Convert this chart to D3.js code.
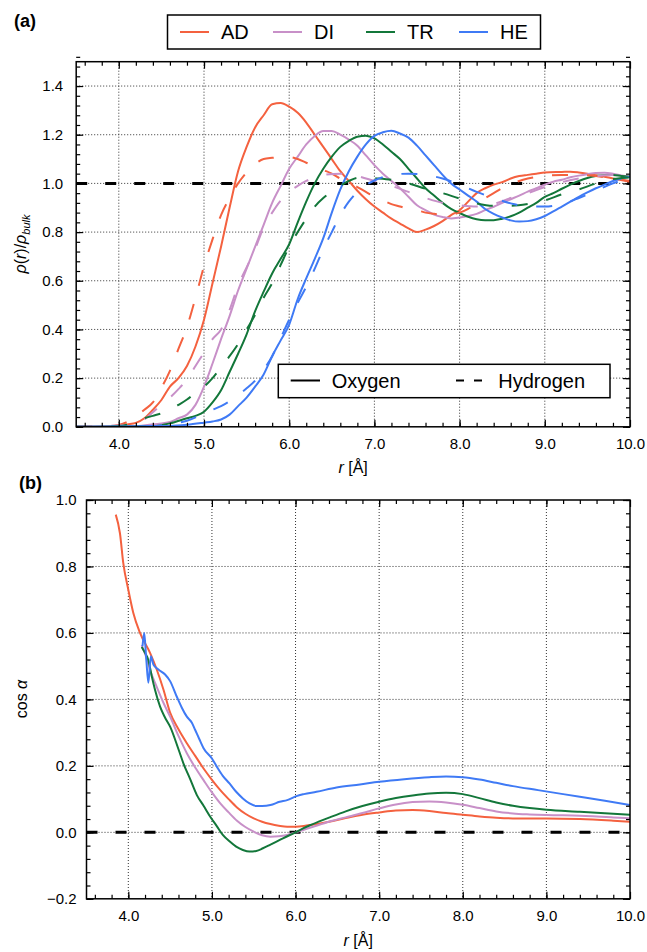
<!DOCTYPE html>
<html>
<head>
<meta charset="utf-8">
<script src="https://cdn.jsdelivr.net/npm/d3@7"></script>
<style>
  body { margin: 0; background: #fff; }
  text { font-family: "Liberation Sans", Arial, Helvetica, sans-serif; }
</style>
</head>
<body>
<div id="chart"></div>
<script>
// Series names and colours
var seriesNames = ["AD", "DI", "TR", "HE"];
var seriesColors = ["#f4613f", "#c890c8", "#13773a", "#3f7af5"];
var atomNames = ["Oxygen", "Hydrogen"];

// Panel (a): density profiles, [r, rho(r)/rho_bulk]
var adOxygen = [[3.5,0],[3.9,0.002],[4.0,0.005],[4.1,0.01],[4.2,0.016],[4.3,0.035],[4.4,0.07],[4.5,0.11],[4.6,0.165],[4.7,0.2],[4.8,0.25],[4.9,0.33],[5.0,0.44],[5.1,0.59],[5.2,0.74],[5.3,0.9],[5.4,1.05],[5.5,1.15],[5.6,1.23],[5.7,1.28],[5.8,1.325],[5.9,1.33],[6.0,1.315],[6.1,1.29],[6.2,1.25],[6.3,1.2],[6.4,1.15],[6.5,1.1],[6.6,1.05],[6.7,1.01],[6.8,0.97],[6.9,0.935],[7.0,0.905],[7.1,0.88],[7.2,0.855],[7.3,0.835],[7.4,0.815],[7.5,0.8],[7.6,0.81],[7.7,0.825],[7.8,0.845],[7.9,0.87],[8.0,0.89],[8.1,0.925],[8.2,0.96],[8.3,0.98],[8.4,0.995],[8.5,1.005],[8.6,1.02],[8.7,1.03],[8.8,1.035],[8.9,1.04],[9.0,1.045],[9.2,1.047],[9.3,1.048],[9.4,1.045],[9.5,1.04],[9.6,1.034],[9.8,1.02],[10.0,1.007]];
var adHydrogen = [[3.5,0],[3.9,0.003],[4.0,0.008],[4.1,0.02],[4.2,0.04],[4.3,0.07],[4.4,0.1],[4.5,0.16],[4.6,0.23],[4.7,0.32],[4.8,0.41],[4.9,0.53],[5.0,0.66],[5.1,0.77],[5.2,0.87],[5.3,0.94],[5.4,1.0],[5.5,1.045],[5.6,1.08],[5.7,1.1],[5.8,1.105],[5.9,1.108],[6.0,1.108],[6.1,1.1],[6.2,1.085],[6.3,1.07],[6.4,1.055],[6.5,1.04],[6.6,1.02],[6.7,1.005],[6.8,0.985],[6.9,0.965],[7.0,0.945],[7.1,0.93],[7.2,0.915],[7.3,0.905],[7.4,0.895],[7.5,0.89],[7.6,0.88],[7.7,0.875],[7.8,0.872],[7.9,0.873],[8.0,0.88],[8.1,0.895],[8.2,0.92],[8.3,0.94],[8.4,0.96],[8.5,0.98],[8.6,0.995],[8.7,1.01],[8.8,1.02],[9.0,1.03],[9.2,1.035],[9.4,1.035],[9.6,1.03],[9.8,1.02],[10.0,1.01]];
var diOxygen = [[3.5,0],[4.2,0.003],[4.4,0.01],[4.6,0.02],[4.7,0.035],[4.8,0.05],[4.9,0.09],[5.0,0.165],[5.1,0.26],[5.2,0.36],[5.3,0.455],[5.4,0.56],[5.5,0.65],[5.6,0.74],[5.7,0.83],[5.8,0.92],[5.9,0.99],[6.0,1.06],[6.1,1.11],[6.2,1.16],[6.3,1.195],[6.4,1.215],[6.5,1.215],[6.6,1.2],[6.7,1.18],[6.8,1.155],[6.9,1.115],[7.0,1.075],[7.1,1.04],[7.2,1.01],[7.3,0.98],[7.4,0.945],[7.5,0.91],[7.6,0.89],[7.7,0.872],[7.8,0.862],[7.9,0.856],[8.0,0.86],[8.1,0.866],[8.2,0.875],[8.3,0.89],[8.4,0.904],[8.5,0.92],[8.6,0.935],[8.7,0.95],[8.8,0.966],[8.9,0.98],[9.0,0.995],[9.1,1.007],[9.2,1.015],[9.3,1.025],[9.4,1.032],[9.5,1.038],[9.6,1.043],[9.7,1.044],[9.8,1.04],[9.9,1.033],[10.0,1.027]];
var diHydrogen = [[3.5,0],[4.2,0.01],[4.3,0.03],[4.4,0.06],[4.5,0.09],[4.6,0.12],[4.7,0.155],[4.8,0.195],[4.9,0.25],[5.0,0.305],[5.1,0.36],[5.2,0.4],[5.3,0.48],[5.4,0.58],[5.5,0.655],[5.6,0.73],[5.7,0.82],[5.8,0.88],[5.9,0.93],[6.0,0.965],[6.1,0.99],[6.2,1.01],[6.3,1.025],[6.4,1.035],[6.6,1.04],[6.8,1.03],[7.0,1.01],[7.2,0.99],[7.4,0.965],[7.6,0.94],[7.8,0.92],[8.0,0.91],[8.2,0.905],[8.4,0.915],[8.6,0.94],[8.8,0.96],[9.0,0.985],[9.2,1.005],[9.4,1.02],[9.6,1.03],[9.8,1.035],[10.0,1.035]];
var trOxygen = [[3.5,0],[4.4,0.003],[4.6,0.014],[4.8,0.035],[4.9,0.045],[5.0,0.062],[5.1,0.1],[5.2,0.15],[5.3,0.225],[5.4,0.3],[5.5,0.38],[5.6,0.475],[5.7,0.555],[5.8,0.63],[5.9,0.69],[6.0,0.75],[6.1,0.84],[6.2,0.925],[6.3,1.0],[6.4,1.06],[6.5,1.11],[6.6,1.15],[6.7,1.175],[6.8,1.192],[6.9,1.196],[7.0,1.185],[7.1,1.16],[7.2,1.13],[7.3,1.1],[7.4,1.06],[7.5,1.02],[7.6,0.98],[7.7,0.95],[7.8,0.92],[7.9,0.895],[8.0,0.878],[8.1,0.863],[8.2,0.853],[8.3,0.849],[8.4,0.849],[8.5,0.855],[8.6,0.865],[8.7,0.88],[8.8,0.9],[8.9,0.92],[9.0,0.945],[9.1,0.96],[9.2,0.978],[9.3,0.995],[9.4,1.01],[9.5,1.022],[9.6,1.03],[9.7,1.034],[9.8,1.035],[9.9,1.03],[10.0,1.027]];
var trHydrogen = [[3.5,0],[4.0,0.003],[4.2,0.02],[4.3,0.035],[4.4,0.045],[4.5,0.055],[4.6,0.07],[4.7,0.09],[4.8,0.112],[4.9,0.14],[5.0,0.165],[5.1,0.2],[5.2,0.245],[5.3,0.29],[5.4,0.34],[5.5,0.4],[5.6,0.46],[5.7,0.53],[5.8,0.59],[5.9,0.665],[6.0,0.74],[6.1,0.8],[6.2,0.855],[6.3,0.905],[6.4,0.94],[6.5,0.967],[6.6,0.99],[6.7,1.01],[6.8,1.023],[6.9,1.025],[7.0,1.022],[7.2,1.015],[7.4,1.0],[7.6,0.978],[7.8,0.96],[8.0,0.938],[8.2,0.918],[8.4,0.908],[8.6,0.908],[8.8,0.915],[9.0,0.93],[9.2,0.955],[9.4,0.975],[9.6,1.0],[9.8,1.018],[10.0,1.025]];
var heOxygen = [[3.5,0],[4.6,0.003],[4.8,0.008],[5.0,0.017],[5.1,0.022],[5.2,0.03],[5.3,0.05],[5.4,0.085],[5.5,0.12],[5.6,0.165],[5.7,0.215],[5.8,0.29],[5.9,0.355],[6.0,0.42],[6.1,0.525],[6.2,0.61],[6.3,0.69],[6.4,0.775],[6.5,0.88],[6.6,0.975],[6.7,1.05],[6.8,1.11],[6.9,1.16],[7.0,1.195],[7.1,1.21],[7.2,1.216],[7.3,1.205],[7.4,1.188],[7.5,1.155],[7.6,1.115],[7.7,1.075],[7.8,1.035],[7.9,1.0],[8.0,0.975],[8.1,0.95],[8.2,0.925],[8.3,0.895],[8.4,0.875],[8.5,0.86],[8.6,0.848],[8.7,0.843],[8.8,0.845],[8.9,0.853],[9.0,0.866],[9.1,0.885],[9.2,0.905],[9.3,0.925],[9.4,0.945],[9.5,0.963],[9.6,0.98],[9.7,0.995],[9.8,1.01],[9.9,1.02],[10.0,1.027]];
var heHydrogen = [[3.5,0],[4.4,0.003],[4.6,0.012],[4.8,0.025],[5.0,0.055],[5.1,0.07],[5.2,0.085],[5.3,0.105],[5.4,0.13],[5.5,0.158],[5.6,0.19],[5.7,0.235],[5.8,0.29],[5.9,0.365],[6.0,0.44],[6.1,0.51],[6.2,0.575],[6.3,0.65],[6.4,0.73],[6.5,0.8],[6.6,0.87],[6.7,0.925],[6.8,0.965],[6.9,0.993],[7.0,1.012],[7.1,1.026],[7.2,1.035],[7.4,1.04],[7.6,1.035],[7.8,1.02],[8.0,0.995],[8.2,0.965],[8.4,0.94],[8.6,0.918],[8.8,0.905],[9.0,0.905],[9.2,0.915],[9.4,0.94],[9.6,0.97],[9.8,1.0],[10.0,1.02]];

// Panel (b): orientation, [r, cos alpha]
var adCos = [[3.85,0.956],[3.9,0.9],[3.94,0.81],[4.0,0.73],[4.06,0.66],[4.14,0.6],[4.26,0.54],[4.34,0.49],[4.42,0.43],[4.5,0.36],[4.6,0.31],[4.7,0.268],[4.8,0.23],[4.9,0.192],[5.0,0.158],[5.1,0.127],[5.2,0.1],[5.3,0.075],[5.4,0.056],[5.5,0.042],[5.6,0.032],[5.7,0.025],[5.8,0.02],[5.9,0.017],[6.0,0.017],[6.1,0.019],[6.2,0.023],[6.4,0.032],[6.6,0.043],[6.8,0.053],[7.0,0.06],[7.2,0.066],[7.4,0.067],[7.6,0.064],[7.8,0.058],[8.0,0.053],[8.2,0.048],[8.4,0.044],[8.6,0.042],[9.0,0.042],[9.4,0.04],[9.8,0.035],[10.0,0.032]];
var diCos = [[4.16,0.563],[4.21,0.53],[4.26,0.488],[4.34,0.438],[4.42,0.39],[4.5,0.348],[4.6,0.29],[4.7,0.238],[4.8,0.195],[4.9,0.157],[5.0,0.12],[5.1,0.087],[5.2,0.06],[5.3,0.035],[5.4,0.016],[5.5,0.002],[5.6,-0.009],[5.7,-0.013],[5.8,-0.012],[5.9,-0.008],[6.0,0.0],[6.1,0.008],[6.2,0.016],[6.4,0.032],[6.6,0.045],[6.8,0.058],[7.0,0.072],[7.2,0.084],[7.4,0.091],[7.6,0.093],[7.8,0.09],[8.0,0.083],[8.2,0.073],[8.4,0.063],[8.6,0.057],[8.8,0.054],[9.0,0.052],[9.4,0.05],[9.8,0.045],[10.0,0.042]];
var trCos = [[4.16,0.558],[4.2,0.54],[4.24,0.518],[4.28,0.47],[4.32,0.428],[4.38,0.378],[4.44,0.345],[4.5,0.318],[4.6,0.25],[4.66,0.207],[4.74,0.16],[4.82,0.112],[4.9,0.08],[4.98,0.047],[5.06,0.018],[5.13,-0.008],[5.21,-0.027],[5.29,-0.043],[5.37,-0.053],[5.45,-0.058],[5.53,-0.056],[5.61,-0.048],[5.7,-0.037],[5.85,-0.018],[6.0,0.0],[6.09,0.012],[6.2,0.024],[6.41,0.045],[6.6,0.063],[6.8,0.079],[7.0,0.092],[7.2,0.103],[7.4,0.111],[7.6,0.117],[7.8,0.119],[8.0,0.115],[8.2,0.103],[8.4,0.09],[8.6,0.08],[8.8,0.073],[9.0,0.068],[9.4,0.062],[9.8,0.056],[10.0,0.053]];
var heCos = [[4.17,0.56],[4.19,0.6],[4.215,0.52],[4.24,0.45],[4.27,0.53],[4.3,0.505],[4.36,0.49],[4.44,0.475],[4.5,0.455],[4.58,0.408],[4.64,0.375],[4.7,0.348],[4.76,0.33],[4.8,0.308],[4.85,0.28],[4.9,0.253],[5.0,0.222],[5.06,0.197],[5.13,0.17],[5.21,0.147],[5.29,0.122],[5.37,0.102],[5.45,0.087],[5.53,0.079],[5.6,0.079],[5.7,0.082],[5.81,0.092],[5.9,0.097],[6.01,0.109],[6.1,0.115],[6.25,0.122],[6.49,0.135],[6.77,0.144],[7.0,0.152],[7.3,0.16],[7.6,0.166],[7.8,0.168],[8.0,0.166],[8.2,0.159],[8.4,0.149],[8.6,0.139],[8.9,0.127],[9.2,0.115],[9.4,0.107],[9.7,0.095],[10.0,0.082]];

// Tick labels
var xTicks = [4, 5, 6, 7, 8, 9, 10];
var densityTicks = [0, 0.2, 0.4, 0.6, 0.8, 1.0, 1.2, 1.4];
var cosTicks = [-0.2, 0, 0.2, 0.4, 0.6, 0.8, 1.0];

var svgWidth = 647;
var svgHeight = 952;

var svg = d3.select("#chart")
  .append("svg")
  .attr("width", svgWidth)
  .attr("height", svgHeight);

var xMinor = d3.range(18, 50).map(i => i / 5);
var fmt = d3.format(".1f");

function drawPanel(p) {
  var w = p.right - p.left;
  var h = p.bottom - p.top;
  var g = svg.append("g").attr("transform", `translate(${p.left}, ${p.top})`);

  var xScale = d3.scaleLinear().domain([3.5, 10]).range([0, w]);
  var yScale = d3.scaleLinear().domain(p.yDomain).range([h, 0]);

  g.append("clipPath").attr("id", p.id + "-clip")
    .append("rect").attr("width", w).attr("height", h);

  // dotted grid
  var grid = g.append("g")
    .attr("stroke", "#333")
    .attr("stroke-width", 1)
    .attr("stroke-dasharray", "1,2");
  grid.selectAll(".gx").data(xTicks.filter(v => v < 10)).enter()
    .append("line")
    .attr("x1", d => xScale(d)).attr("x2", d => xScale(d))
    .attr("y1", 0).attr("y2", h);
  grid.selectAll(".gy").data(p.yTicks.filter(v => v > p.yDomain[0] && v < p.yDomain[1])).enter()
    .append("line")
    .attr("x1", 0).attr("x2", w)
    .attr("y1", d => yScale(d)).attr("y2", d => yScale(d));

  // reference line
  g.append("line")
    .attr("x1", xScale(3.5)).attr("x2", xScale(10))
    .attr("y1", yScale(p.refValue)).attr("y2", yScale(p.refValue))
    .attr("stroke", "#000")
    .attr("stroke-width", 3)
    .attr("stroke-dasharray", "11,18");

  var line = d3.line()
    .x(d => xScale(d[0]))
    .y(d => yScale(d[1]))
    .curve(d3.curveMonotoneX);

  var curves = g.append("g").attr("clip-path", `url(#${p.id}-clip)`);
  p.series.forEach(function(s) {
    curves.append("path")
      .attr("d", line(s.values))
      .attr("fill", "none")
      .attr("stroke", s.color)
      .attr("stroke-width", 2)
      .attr("stroke-dasharray", s.dashed ? "16,19" : null);
  });

  // axes, ticks pointing inward on all four sides
  var yMinor = d3.range(Math.round(p.yDomain[0] / 0.04), Math.round(p.yDomain[1] / 0.04) + 1).map(i => i * 0.04);
  function styleAxis(sel) {
    sel.select(".domain").remove();
    sel.attr("font-size", 15).attr("font-family", '"Liberation Sans", Arial, sans-serif');
    sel.selectAll("line").attr("stroke-width", 1.2);
  }
  g.append("g").attr("transform", `translate(0, ${h})`)
    .call(d3.axisBottom(xScale).tickValues(xMinor).tickSize(-4).tickFormat("")).call(styleAxis);
  g.append("g").attr("transform", `translate(0, ${h})`)
    .call(d3.axisBottom(xScale).tickValues(xTicks).tickSize(-7).tickPadding(12).tickFormat(fmt)).call(styleAxis);
  g.append("g")
    .call(d3.axisTop(xScale).tickValues(xMinor).tickSize(-4).tickFormat("")).call(styleAxis);
  g.append("g")
    .call(d3.axisTop(xScale).tickValues(xTicks).tickSize(-7).tickFormat("")).call(styleAxis);
  g.append("g")
    .call(d3.axisLeft(yScale).tickValues(yMinor).tickSize(-4).tickFormat("")).call(styleAxis);
  g.append("g")
    .call(d3.axisLeft(yScale).tickValues(p.yTicks).tickSize(-7).tickPadding(p.yPad).tickFormat(fmt)).call(styleAxis);
  g.append("g").attr("transform", `translate(${w}, 0)`)
    .call(d3.axisRight(yScale).tickValues(yMinor).tickSize(-4).tickFormat("")).call(styleAxis);
  g.append("g").attr("transform", `translate(${w}, 0)`)
    .call(d3.axisRight(yScale).tickValues(p.yTicks).tickSize(-7).tickFormat("")).call(styleAxis);

  g.append("rect")
    .attr("width", w).attr("height", h)
    .attr("fill", "none")
    .attr("stroke", "#000")
    .attr("stroke-width", 1.5);

  // x axis label
  var xl = g.append("text")
    .attr("x", w / 2)
    .attr("y", h + p.xLabelOffset)
    .attr("text-anchor", "middle")
    .attr("font-size", 16);
  xl.append("tspan").attr("font-style", "italic").text("r");
  xl.append("tspan").text(" [Å]");

  return g;
}

var panelA = drawPanel({
  id: "a", left: 76.2, right: 630, top: 61.7, bottom: 426.8,
  yDomain: [0, 1.5], yTicks: densityTicks, yPad: 13, refValue: 1.0, xLabelOffset: 46,
  series: [
    { values: adOxygen, color: seriesColors[0] },
    { values: diOxygen, color: seriesColors[1] },
    { values: trOxygen, color: seriesColors[2] },
    { values: heOxygen, color: seriesColors[3] },
    { values: adHydrogen, color: seriesColors[0], dashed: true },
    { values: diHydrogen, color: seriesColors[1], dashed: true },
    { values: trHydrogen, color: seriesColors[2], dashed: true },
    { values: heHydrogen, color: seriesColors[3], dashed: true }
  ]
});

var panelB = drawPanel({
  id: "b", left: 86.5, right: 630, top: 500, bottom: 898.8,
  yDomain: [-0.2, 1.0], yTicks: cosTicks, yPad: 10, refValue: 0, xLabelOffset: 47,
  series: [
    { values: adCos, color: seriesColors[0] },
    { values: diCos, color: seriesColors[1] },
    { values: trCos, color: seriesColors[2] },
    { values: heCos, color: seriesColors[3] }
  ]
});

// y axis labels
var yla = svg.append("text")
  .attr("transform", "translate(26, 244) rotate(-90)")
  .attr("text-anchor", "middle")
  .attr("font-size", 16);
yla.append("tspan").attr("font-style", "italic").text("ρ");
yla.append("tspan").text("(");
yla.append("tspan").attr("font-style", "italic").text("r");
yla.append("tspan").text(")/");
yla.append("tspan").attr("font-style", "italic").text("ρ");
yla.append("tspan").attr("font-style", "italic").attr("font-size", 11).attr("dy", "0.35em").text("bulk");

var ylb = svg.append("text")
  .attr("transform", "translate(27, 699) rotate(-90)")
  .attr("text-anchor", "middle")
  .attr("font-size", 16);
ylb.append("tspan").text("cos ");
ylb.append("tspan").attr("font-style", "italic").text("α");

// panel tags
svg.append("text").attr("x", 14).attr("y", 27).attr("font-size", 18).attr("font-weight", "bold").text("(a)");
svg.append("text").attr("x", 19).attr("y", 489).attr("font-size", 18).attr("font-weight", "bold").text("(b)");

// top legend: systems
var legendTop = svg.append("g");
legendTop.append("rect")
  .attr("x", 167.5).attr("y", 15).attr("width", 373).attr("height", 34)
  .attr("fill", "#fff").attr("stroke", "#000").attr("stroke-width", 1.5);
seriesNames.forEach(function(name, i) {
  var x0 = 180 + i * 93;
  legendTop.append("line")
    .attr("x1", x0).attr("x2", x0 + 29).attr("y1", 32).attr("y2", 32)
    .attr("stroke", seriesColors[i]).attr("stroke-width", 2);
  legendTop.append("text")
    .attr("x", x0 + 41).attr("y", 39)
    .attr("font-size", 20)
    .text(name);
});

// inner legend: oxygen / hydrogen
var legendIn = svg.append("g");
legendIn.append("rect")
  .attr("x", 278.3).attr("y", 364.3).attr("width", 331.7).attr("height", 33.4)
  .attr("fill", "#fff").attr("stroke", "#000").attr("stroke-width", 1.5);
legendIn.append("line")
  .attr("x1", 290.7).attr("x2", 320).attr("y1", 380.5).attr("y2", 380.5)
  .attr("stroke", "#000").attr("stroke-width", 2);
legendIn.append("text").attr("x", 331.7).attr("y", 388).attr("font-size", 20).text(atomNames[0]);
legendIn.append("line")
  .attr("x1", 456).attr("x2", 482).attr("y1", 380.5).attr("y2", 380.5)
  .attr("stroke", "#000").attr("stroke-width", 2)
  .attr("stroke-dasharray", "8,10");
legendIn.append("text").attr("x", 498.3).attr("y", 388).attr("font-size", 20).text(atomNames[1]);
</script>
</body>
</html>
